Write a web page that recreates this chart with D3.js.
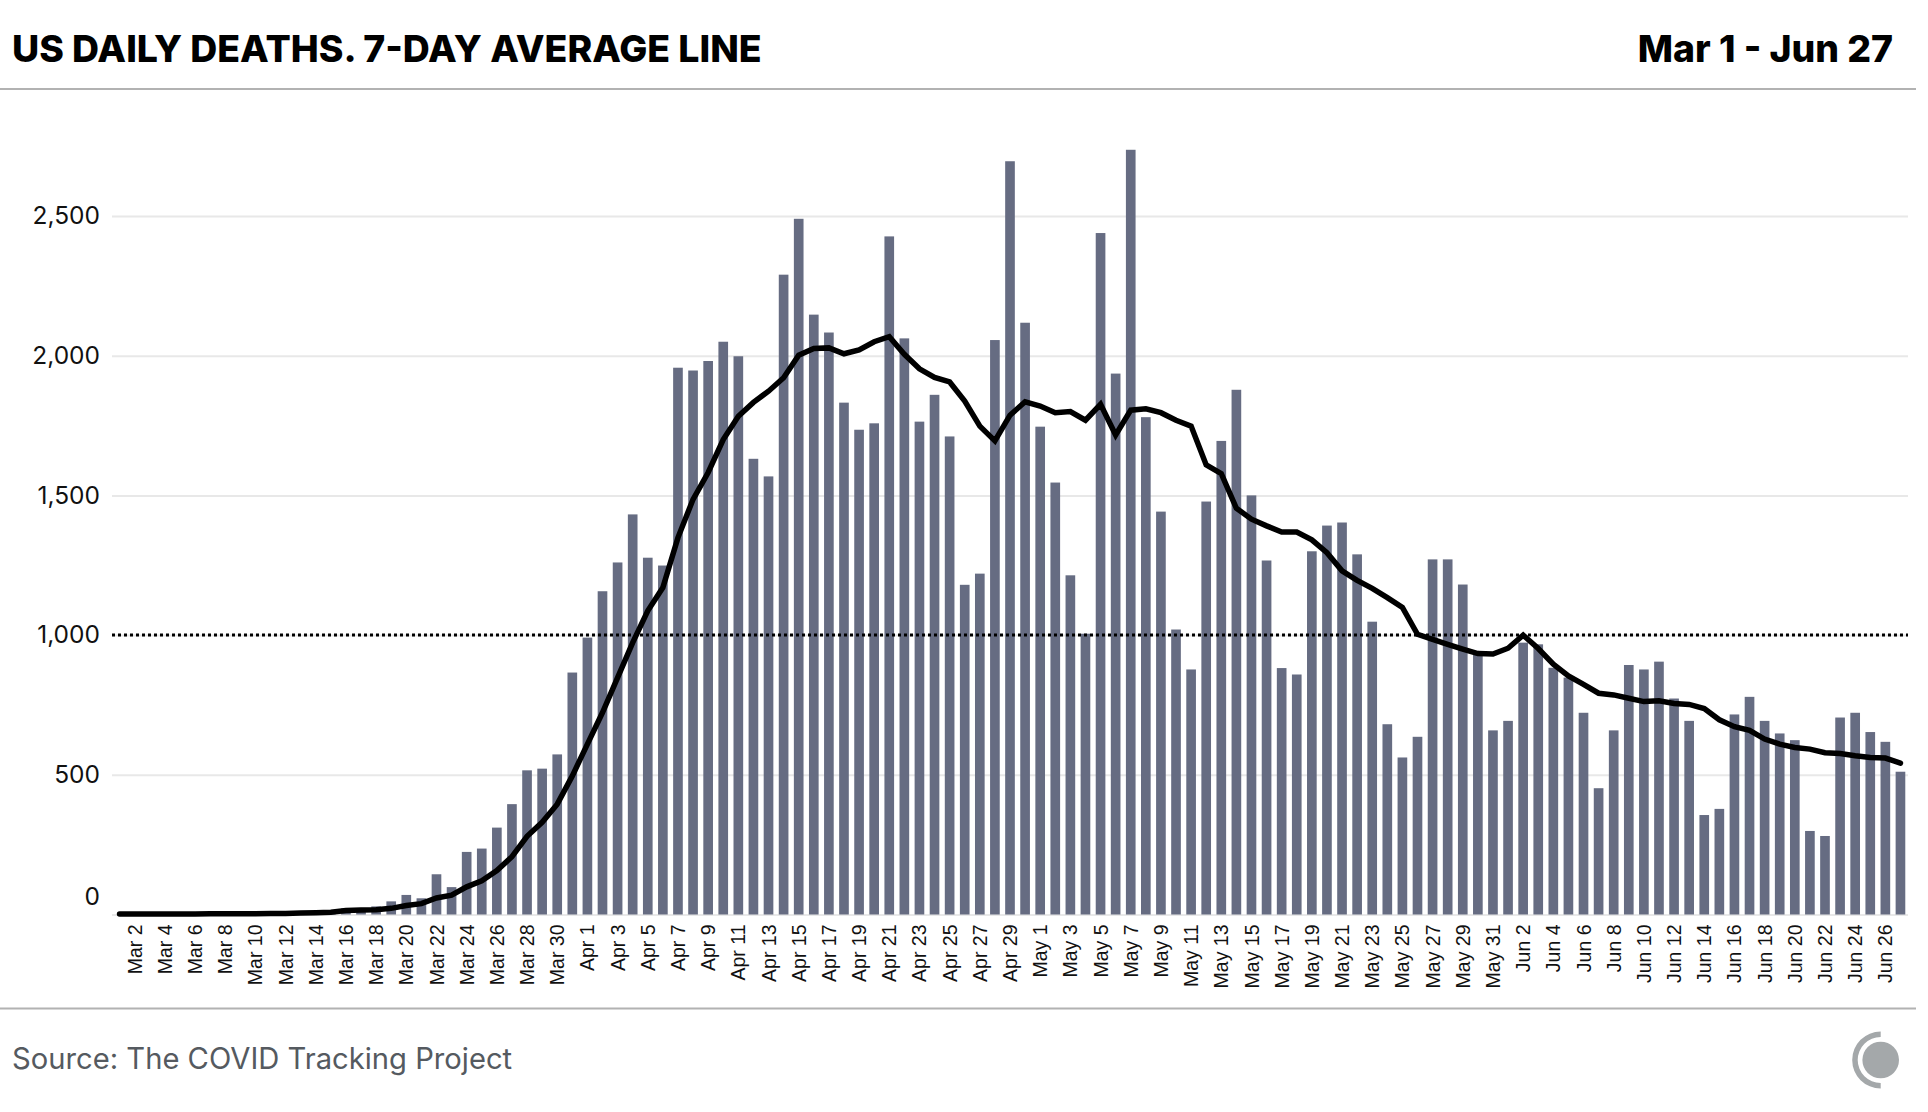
<!DOCTYPE html>
<html>
<head>
<meta charset="utf-8">
<script src="https://cdn.jsdelivr.net/npm/d3@7"></script>
<style>
  html, body { margin: 0; padding: 0; background: #fff; }
  svg { display: block; }
  .head { font-family: Inter, sans-serif; font-weight: 800; font-size: 37.4px; fill: #000; }
  .source { font-family: Inter, sans-serif; font-size: 29.2px; fill: #555a60; }
  .y-axis text { font-family: Inter, sans-serif; font-size: 24.5px; fill: #111; }
  .x-axis text { font-family: "Liberation Sans", sans-serif; font-size: 19.5px; fill: #111; }
</style>
</head>
<body>
<div id="viz"></div>
<script>
const dates = [
  "Mar 1","Mar 2","Mar 3","Mar 4","Mar 5","Mar 6","Mar 7","Mar 8","Mar 9","Mar 10","Mar 11","Mar 12","Mar 13","Mar 14","Mar 15","Mar 16",
  "Mar 17","Mar 18","Mar 19","Mar 20","Mar 21","Mar 22","Mar 23","Mar 24","Mar 25","Mar 26","Mar 27","Mar 28","Mar 29","Mar 30","Mar 31",
  "Apr 1","Apr 2","Apr 3","Apr 4","Apr 5","Apr 6","Apr 7","Apr 8","Apr 9","Apr 10","Apr 11","Apr 12","Apr 13","Apr 14","Apr 15",
  "Apr 16","Apr 17","Apr 18","Apr 19","Apr 20","Apr 21","Apr 22","Apr 23","Apr 24","Apr 25","Apr 26","Apr 27","Apr 28","Apr 29","Apr 30",
  "May 1","May 2","May 3","May 4","May 5","May 6","May 7","May 8","May 9","May 10","May 11","May 12","May 13","May 14","May 15",
  "May 16","May 17","May 18","May 19","May 20","May 21","May 22","May 23","May 24","May 25","May 26","May 27","May 28","May 29","May 30","May 31",
  "Jun 1","Jun 2","Jun 3","Jun 4","Jun 5","Jun 6","Jun 7","Jun 8","Jun 9","Jun 10","Jun 11","Jun 12","Jun 13","Jun 14","Jun 15",
  "Jun 16","Jun 17","Jun 18","Jun 19","Jun 20","Jun 21","Jun 22","Jun 23","Jun 24","Jun 25","Jun 26","Jun 27"
];
const deaths = [
  0,1,1,1,3,2,3,4,3,4,3,5,7,8,9,22,
  14,29,47,70,58,144,98,224,236,311,395,516,522,573,866,
  991,1157,1260,1432,1277,1249,1957,1947,1981,2050,1998,1631,1568,2290,2490,
  2147,2083,1832,1735,1758,2427,2062,1764,1860,1711,1180,1220,2056,2696,2118,
  1746,1546,1214,1005,2439,1936,2737,1780,1442,1020,877,1478,1695,1878,1500,
  1267,882,859,1300,1392,1403,1289,1048,681,562,636,1271,1271,1181,938,659,
  693,973,967,883,848,722,452,659,893,877,905,773,693,356,378,
  716,779,693,648,624,299,281,705,722,653,618,511
];
const average = [
  2,2,2,2,2,2,3,3,3,3,4,4,5,6,8,14,
  16,17,22,32,39,59,69,99,121,157,207,280,330,395,496,
  610,723,848,973,1087,1170,1349,1486,1582,1700,1783,1833,1873,1921,2002,
  2026,2028,2007,2021,2050,2068,2005,1953,1922,1906,1838,1748,1695,1787,1835,
  1820,1796,1800,1769,1826,1716,1805,1810,1796,1769,1748,1609,1578,1454,1415,
  1391,1369,1369,1341,1295,1230,1196,1167,1134,1099,1003,985,967,950,934,932,
  953,1000,952,896,854,824,792,786,774,762,765,755,752,737,697,
  672,659,628,610,598,592,579,576,568,562,560,542
];
const yTicks = [0, 500, 1000, 1500, 2000, 2500];
const titleText = "US DAILY DEATHS. 7-DAY AVERAGE LINE";
const rangeText = "Mar 1 - Jun 27";
const sourceText = "Source: The COVID Tracking Project";

const pageWidth = 1928;
const pageHeight = 1112;
const plotLeft = 112;
const plotRight = 1908;
const plotBottom = 914.5;
const plotTop2500 = 216;
const rows = dates.map((d, i) => ({ date: d, deaths: deaths[i], average: average[i] }));

const svg = d3.select("#viz")
  .append("svg")
  .attr("width", pageWidth)
  .attr("height", pageHeight)
  .attr("viewBox", "0 0 " + pageWidth + " " + pageHeight);

const x = d3.scaleBand()
  .domain(dates)
  .range([plotLeft, plotRight])
  .paddingInner(0.36)
  .paddingOuter(0.18);

const y = d3.scaleLinear()
  .domain([0, 2500])
  .range([plotBottom, plotTop2500]);

// Header and footer
svg.append("text").attr("class", "head").attr("x", 12).attr("y", 61.5).text(titleText);
svg.append("text").attr("class", "head").attr("x", 1893).attr("y", 61.5).attr("text-anchor", "end").text(rangeText);
svg.append("line").attr("x1", 0).attr("x2", 1916).attr("y1", 89).attr("y2", 89)
  .attr("stroke", "#b2b2b2").attr("stroke-width", 2);
svg.append("line").attr("x1", 0).attr("x2", 1916).attr("y1", 1008.5).attr("y2", 1008.5)
  .attr("stroke", "#b2b2b2").attr("stroke-width", 2);
svg.append("text").attr("class", "source").attr("x", 12).attr("y", 1069).text(sourceText);

// Y axis and grid
const yAxis = svg.append("g")
  .attr("class", "y-axis")
  .attr("transform", "translate(" + plotLeft + ",0)")
  .call(d3.axisLeft(y).tickValues(yTicks).tickFormat(d3.format(",")).tickSize(0).tickPadding(12));
yAxis.select(".domain").remove();
yAxis.selectAll(".tick line")
  .attr("x2", plotRight - plotLeft)
  .attr("stroke", "#e8e8e8")
  .attr("stroke-width", 2);
yAxis.selectAll(".tick text")
  .filter(d => d === 0)
  .attr("dy", "-0.4em");

// Bars
svg.append("g")
  .selectAll("rect")
  .data(rows)
  .enter()
  .append("rect")
  .attr("x", d => x(d.date))
  .attr("y", d => y(d.deaths))
  .attr("width", x.bandwidth())
  .attr("height", d => y(0) - y(d.deaths))
  .attr("fill", "#666c82");

// Dotted 1,000 line
svg.append("line")
  .attr("x1", plotLeft)
  .attr("x2", plotRight)
  .attr("y1", y(1000))
  .attr("y2", y(1000))
  .attr("stroke", "#000")
  .attr("stroke-width", 3)
  .attr("stroke-dasharray", "3 3");

// X axis labels, every other day
const xAxis = svg.append("g")
  .attr("class", "x-axis")
  .attr("transform", "translate(0," + plotBottom + ")")
  .call(d3.axisBottom(x).tickValues(dates.filter((d, i) => i % 2 === 1)).tickSize(0));
xAxis.select(".domain").remove();
xAxis.selectAll(".tick text")
  .attr("transform", "rotate(-90)")
  .attr("text-anchor", "end")
  .attr("x", -10)
  .attr("y", 0)
  .attr("dy", "0.36em");

// 7-day average
const line = d3.line()
  .x(d => x(d.date) + x.bandwidth() / 2)
  .y(d => y(d.average));
svg.append("path")
  .datum(rows)
  .attr("d", line)
  .attr("fill", "none")
  .attr("stroke", "#000")
  .attr("stroke-width", 5.5)
  .attr("stroke-linecap", "round");

// Logo
const logo = svg.append("g").attr("transform", "translate(1880.7,1060)");
logo.append("circle").attr("r", 18.3).attr("fill", "#a4a8aa");
logo.append("path")
  .attr("d", d3.arc()({ innerRadius: 23, outerRadius: 28.5, startAngle: Math.PI, endAngle: 2 * Math.PI }))
  .attr("fill", "#a4a8aa");
</script>
</body>
</html>
